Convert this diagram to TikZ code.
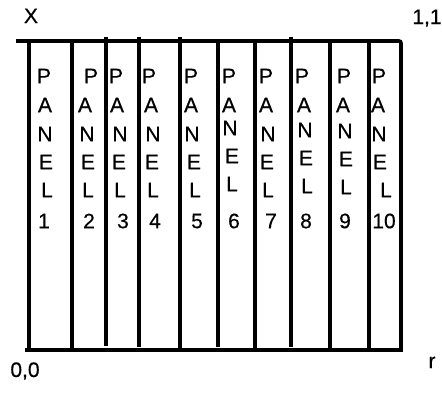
\documentclass[tikz,border=0pt]{standalone}
\usepackage{fontspec}
\setmainfont{Liberation Sans}
\newfontfamily\labelfont{Liberation Sans}[FakeBold=0.4]
\begin{document}
% one panel label: letters P-A-N-E-L stacked vertically, then the panel number
% #1 panel id, #2..#7 x of P,A,N,E,L,number, #8 shift of N/E/L rows, #9 number text
\newcommand\panelstack[9]{%
  \node[glyph] (P#1) at (#2,76) {P};
  \node[glyph] (A#1) at (#3,105) {A};
  \node[glyph] (N#1) at (#4,134+#8) {N};
  \node[glyph] (E#1) at (#5,162+#8) {E};
  \node[glyph] (L#1) at (#6,190+#8) {L};
  \node[glyph] (n#1) at (#7,221) {#9};
}
\begin{tikzpicture}[x=1pt,y=-1pt,
  glyph/.style={inner sep=0pt, font=\labelfont\fontsize{21}{21}\selectfont},
  tag/.style={inner sep=0pt, anchor=base, font=\labelfont\fontsize{21}{21}\selectfont},
  frame/.style={line width=3.6pt, line cap=rect},
  wallthick/.style={line width=4.2pt},
  wallthin/.style={line width=3.2pt},
]
\useasboundingbox (0,0) rectangle (442,392);

% outer frame: top rail, right wall, bottom rail
\draw[frame, rounded corners=2pt] (18,41) -- (401,41) -- (401,350);
\draw[frame] (27,350) -- (401,350);

% panel divisions
\draw[wallthick] (29,41) -- (29,350);
\draw[wallthick] (72,41) -- (72,350);
\draw[wallthin]  (106,37) -- (106,346);
\draw[wallthin]  (139,37) -- (139,347);
\draw[wallthick] (180,37) -- (180,350);
\draw[wallthin]  (218,41) -- (218,347);
\draw[wallthick] (255,41) -- (255,350);
\draw[wallthin]  (291,37) -- (291,347);
\draw[wallthick] (330,41) -- (330,350);
\draw[wallthick] (369,41) -- (369,350);

% panel labels
\panelstack{1}{44}{45}{45}{46}{47}{44}{0}{1}
\panelstack{2}{91}{85}{87}{88}{88}{89}{0}{2}
\panelstack{3}{116}{117}{120}{119}{120}{123}{0}{3}
\panelstack{4}{149}{151}{153}{152}{153}{155}{0}{4}
\panelstack{5}{191}{191}{192}{194}{195}{197}{0}{5}
\panelstack{6}{229}{229}{230}{232}{232}{234}{-6}{6}
\panelstack{7}{266}{266}{268}{267}{268}{271}{0}{7}
\panelstack{8}{302}{304}{305}{306}{307}{306}{-4}{8}
\panelstack{9}{344}{343}{345}{346}{346}{345}{-3}{9}
\panelstack{10}{379}{378}{379}{380}{386}{384}{0}{10}

% corner and axis labels
\node[tag] (xlab) at (31,23) {X};
\node[tag] (topright) at (427,24) {1,1};
\node[tag] (origin) at (25,377) {0,0};
\node[tag] (rlab) at (432,368) {r};
\end{tikzpicture}
\end{document}
